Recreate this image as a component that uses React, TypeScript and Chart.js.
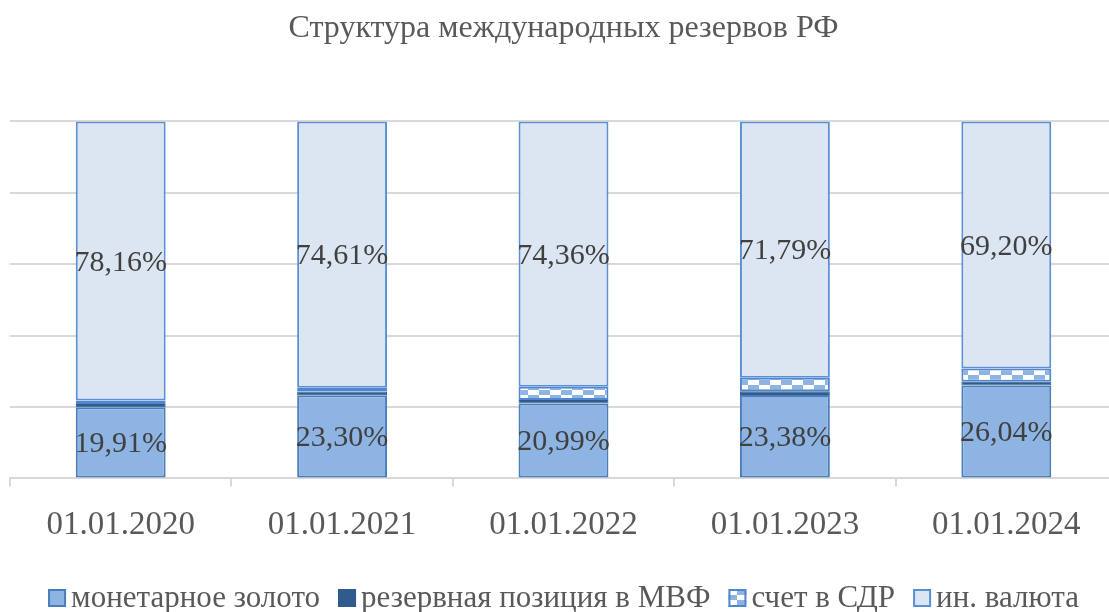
import React, { useEffect, useRef } from "react";
import { Chart, registerables } from "chart.js";

Chart.register(...registerables);

const categories = ["01.01.2020", "01.01.2021", "01.01.2022", "01.01.2023", "01.01.2024"];
const gold = [19.91, 23.3, 20.99, 23.38, 26.04];
const imf = [0.95, 1.05, 0.95, 1.05, 1.05];
const sdr = [0.98, 1.04, 3.7, 3.78, 3.71];
const fx = [78.16, 74.61, 74.36, 71.79, 69.2];
const seriesNames = ["монетарное золото", "резервная позиция в МВФ", "счет в СДР", "ин. валюта"];
const titleText = "Структура международных резервов РФ";

const FONT = "'Liberation Serif', 'Times New Roman', serif";

function makePattern(): CanvasPattern | string {
  const c = document.createElement("canvas");
  c.width = 22;
  c.height = 10;
  const g = c.getContext("2d");
  if (!g) return "#8EB4E3";
  g.fillStyle = "#FFFFFF";
  g.fillRect(0, 0, 22, 10);
  g.fillStyle = "#8EB4E3";
  g.fillRect(11, 0, 11, 5);
  g.fillRect(0, 5, 11, 5);
  const p = g.createPattern(c, "repeat");
  return p || "#8EB4E3";
}

const labelPlugin = {
  id: "segLabels",
  afterDatasetsDraw(chart: any) {
    const ctx = chart.ctx;
    ctx.save();
    ctx.font = `30px ${FONT}`;
    ctx.fillStyle = "#404040";
    ctx.textAlign = "center";
    ctx.textBaseline = "middle";
    [0, 3].forEach((di) => {
      const meta = chart.getDatasetMeta(di);
      const data = chart.data.datasets[di].data as number[];
      meta.data.forEach((el: any, i: number) => {
        const { x, y, base } = el.getProps(["x", "y", "base"], true);
        const txt = data[i].toFixed(2).replace(".", ",") + "%";
        ctx.fillText(txt, x, (y + base) / 2 + 2);
      });
    });
    ctx.restore();
  },
};

const legendPlugin = {
  id: "customLegend",
  afterDraw(chart: any) {
    const ctx = chart.ctx;
    const ds = chart.data.datasets;
    const box = 18;
    const gap = 5;
    const spacing = 18;
    const yc = 598;
    ctx.save();
    ctx.font = `31px ${FONT}`;
    const widths = ds.map((d: any) => box + gap + ctx.measureText(d.label).width);
    const total = widths.reduce((a: number, b: number) => a + b, 0) + spacing * (ds.length - 1);
    let x = chart.width / 2 - total / 2;
    ds.forEach((d: any, i: number) => {
      ctx.fillStyle = d.backgroundColor;
      ctx.fillRect(x, yc - box / 2, box, box);
      ctx.strokeStyle = d.borderColor;
      ctx.lineWidth = 2;
      ctx.strokeRect(x + 1, yc - box / 2 + 1, box - 2, box - 2);
      ctx.fillStyle = "#595959";
      ctx.textAlign = "left";
      ctx.textBaseline = "middle";
      ctx.fillText(d.label, x + box + gap, yc + 1);
      x += widths[i] + spacing;
    });
    ctx.restore();
  },
};

export default function App() {
  const ref = useRef<HTMLCanvasElement | null>(null);
  useEffect(() => {
    document.body.style.margin = "0";
    if (!ref.current) return;
    const pattern = makePattern();
    const chart = new Chart(ref.current, {
      type: "bar",
      data: {
        labels: categories,
        datasets: [
          { label: seriesNames[0], data: gold, backgroundColor: "#8EB4E3", borderColor: "#4A7EBB", borderWidth: 2, borderSkipped: false },
          { label: seriesNames[1], data: imf, backgroundColor: "#2F5B8F", borderColor: "#2F5B8F", borderWidth: 1, borderSkipped: false },
          { label: seriesNames[2], data: sdr, backgroundColor: pattern as any, borderColor: "#4F86D0", borderWidth: 2, borderSkipped: false },
          { label: seriesNames[3], data: fx, backgroundColor: "#DCE6F2", borderColor: "#5A8ED6", borderWidth: 2, borderSkipped: false },
        ],
      },
      options: {
        responsive: false,
        animation: false,
        datasets: { bar: { categoryPercentage: 1, barPercentage: 0.406 } },
        layout: { padding: { left: 10, right: 10, top: 0, bottom: 48 } },
        scales: {
          x: {
            stacked: true,
            grid: { display: true, drawOnChartArea: false, drawTicks: true, tickLength: 8, color: "#D9D9D9", lineWidth: 2 },
            border: { display: true, color: "#D9D9D9", width: 2 },
            ticks: { color: "#595959", font: { family: FONT, size: 33 }, padding: 19 },
          },
          y: {
            stacked: true,
            min: 0,
            max: 100,
            ticks: { display: false, stepSize: 20 },
            grid: { color: "#D9D9D9", lineWidth: 2, drawTicks: false },
            border: { display: false },
          },
        },
        plugins: {
          title: {
            display: true,
            text: titleText,
            color: "#595959",
            font: { family: FONT, size: 32, weight: "normal" },
            padding: { top: 9, bottom: 74 },
          },
          legend: { display: false },
          tooltip: { enabled: false },
        },
      },
      plugins: [labelPlugin, legendPlugin],
    });
    return () => chart.destroy();
  }, []);
  return (
    <div style={{ position: "absolute", left: 0, top: 0, width: 1109, height: 612, overflow: "hidden", background: "#fff" }}>
      <canvas ref={ref} width={1127} height={612} style={{ display: "block", width: 1127, height: 612 }} />
    </div>
  );
}
